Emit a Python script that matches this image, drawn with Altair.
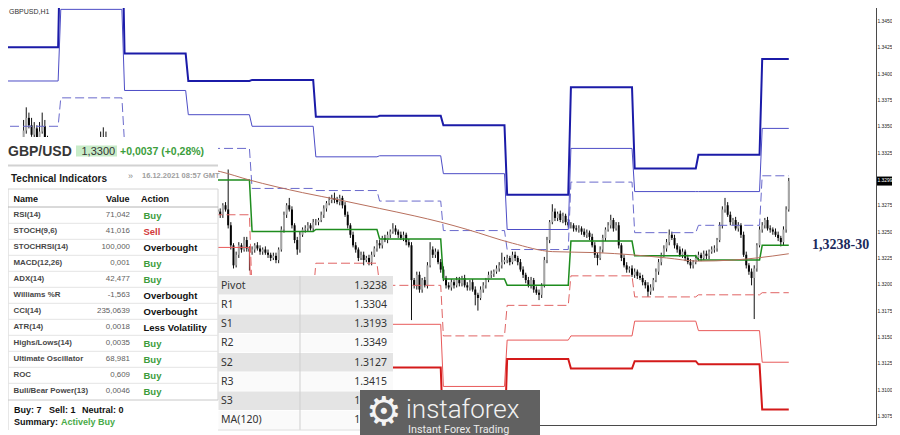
import altair as alt
import pandas as pd

# ---------------- GBPUSD H1 candles (bar 0 = 30 Nov 03:00 ... bar 295 = 16 Dec 10:00) ----------------
first_open = 1.3326
closes = [
    # 30 Nov
    1.3328, 1.3330, 1.3333, 1.3328, 1.3332, 1.3336, 1.3338, 1.3347, 1.3359, 1.3352, 1.3343, 1.3349, 1.3338, 1.3346, 1.3351, 1.3340, 1.3324, 1.3305, 1.3281, 1.3272, 1.3286,
    # 1 Dec
    1.3281, 1.3272, 1.3276, 1.3286, 1.3290, 1.3295, 1.3300, 1.3305, 1.3310, 1.3314, 1.3319, 1.3321, 1.3324, 1.3328, 1.3333, 1.3336, 1.3338, 1.3333, 1.3324, 1.3314, 1.3305, 1.3295, 1.3290, 1.3292,
    # 2 Dec
    1.3295, 1.3300, 1.3302, 1.3298, 1.3290, 1.3286, 1.3281, 1.3272, 1.3276, 1.3267, 1.3262, 1.3257, 1.3264, 1.3272, 1.3276, 1.3281, 1.3283, 1.3276, 1.3272, 1.3273, 1.3281, 1.3286, 1.3290, 1.3286,
    # 3 Dec
    1.3281, 1.3276, 1.3272, 1.3262, 1.3254, 1.3248, 1.3243, 1.3251, 1.3257, 1.3267, 1.3272, 1.3270, 1.3267, 1.3276, 1.3272, 1.3257, 1.3238, 1.3219, 1.3229, 1.3238, 1.3234, 1.3243, 1.3235, 1.3232,
    # 6 Dec
    1.3234, 1.3238, 1.3235, 1.3232, 1.3234, 1.3231, 1.3229, 1.3226, 1.3228, 1.3224, 1.3234, 1.3253, 1.3267, 1.3276, 1.3272, 1.3257, 1.3243, 1.3234, 1.3248, 1.3253, 1.3254, 1.3257, 1.3254, 1.3260,
    # 7 Dec
    1.3260, 1.3262, 1.3267, 1.3273, 1.3278, 1.3281, 1.3283, 1.3281, 1.3279, 1.3283, 1.3276, 1.3267, 1.3257, 1.3248, 1.3238, 1.3234, 1.3226, 1.3229, 1.3224, 1.3226, 1.3222, 1.3229, 1.3235, 1.3240,
    # 8 Dec
    1.3238, 1.3245, 1.3243, 1.3248, 1.3251, 1.3254, 1.3251, 1.3248, 1.3245, 1.3248, 1.3241, 1.3238, 1.3205, 1.3200, 1.3210, 1.3196, 1.3205, 1.3200, 1.3219, 1.3234, 1.3229, 1.3232, 1.3222, 1.3215,
    # 9 Dec
    1.3207, 1.3200, 1.3198, 1.3203, 1.3200, 1.3205, 1.3202, 1.3207, 1.3200, 1.3198, 1.3203, 1.3196, 1.3191, 1.3188, 1.3196, 1.3200, 1.3205, 1.3210, 1.3211, 1.3213, 1.3216, 1.3219, 1.3222, 1.3224,
    # 10 Dec
    1.3226, 1.3222, 1.3229, 1.3226, 1.3222, 1.3215, 1.3210, 1.3205, 1.3200, 1.3205, 1.3196, 1.3193, 1.3191, 1.3200, 1.3224, 1.3243, 1.3260, 1.3270, 1.3264, 1.3268, 1.3262, 1.3266, 1.3260, 1.3257,
    # 13 Dec
    1.3257, 1.3254, 1.3253, 1.3254, 1.3251, 1.3248, 1.3250, 1.3246, 1.3238, 1.3229, 1.3226, 1.3234, 1.3245, 1.3253, 1.3257, 1.3262, 1.3254, 1.3257, 1.3238, 1.3226, 1.3219, 1.3215, 1.3216, 1.3210,
    # 14 Dec
    1.3213, 1.3209, 1.3207, 1.3203, 1.3200, 1.3194, 1.3198, 1.3205, 1.3213, 1.3222, 1.3229, 1.3235, 1.3241, 1.3248, 1.3245, 1.3238, 1.3234, 1.3229, 1.3232, 1.3226, 1.3222, 1.3219, 1.3222, 1.3226,
    # 15 Dec
    1.3229, 1.3226, 1.3230, 1.3228, 1.3232, 1.3234, 1.3235, 1.3243, 1.3257, 1.3272, 1.3276, 1.3267, 1.3260, 1.3262, 1.3254, 1.3257, 1.3248, 1.3229, 1.3219, 1.3213, 1.3207, 1.3216, 1.3238, 1.3253,
    # 16 Dec
    1.3257, 1.3262, 1.3254, 1.3253, 1.3251, 1.3248, 1.3245, 1.3241, 1.3253, 1.3272, 1.3299,
]
wick_up_pips = [
    2, 2, 2, 2, 2, 2, 1, 10, 10, 5, 7, 6, 3, 9, 13, 6, 2, 3, 3, 3, 3,
    3, 2, 3, 3, 2, 3, 3, 2, 3, 3, 2, 3, 2, 3, 2, 10, 12, 8, 3, 2, 3, 3, 2, 3,
    3, 2, 3, 3, 2, 3, 3, 2, 3, 3, 2, 3, 3, 2, 3, 3, 2, 3, 3, 2, 3, 3, 2, 3,
    3, 2, 3, 3, 2, 3, 3, 2, 3, 3, 2, 3, 3, 2, 3, 38, 3, 2, 3, 3, 2, 3, 3, 2,
    3, 2, 3, 3, 2, 3, 3, 2, 3, 3, 2, 3, 3, 2, 7, 3, 2, 3, 3, 2, 3, 3, 2, 3,
    3, 2, 3, 3, 2, 3, 3, 5, 3, 3, 2, 3, 3, 2, 3, 3, 2, 3, 3, 2, 3, 3, 2, 3,
    3, 2, 3, 3, 2, 5, 3, 2, 3, 3, 2, 3, 3, 2, 3, 3, 2, 3, 3, 7, 3, 3, 2, 3,
    3, 2, 3, 3, 2, 3, 3, 2, 3, 3, 2, 3, 3, 2, 3, 3, 2, 3, 3, 2, 3, 3, 9, 3,
    3, 2, 3, 3, 2, 3, 3, 2, 3, 3, 2, 3, 3, 2, 3, 3, 2, 7, 3, 2, 3, 3, 2, 3,
    3, 2, 3, 3, 2, 3, 3, 2, 3, 3, 2, 3, 3, 2, 3, 5, 2, 3, 3, 2, 3, 3, 2, 3,
    3, 2, 3, 3, 2, 3, 3, 2, 3, 3, 2, 3, 3, 5, 3, 3, 2, 3, 3, 2, 3, 3, 2, 3,
    3, 2, 3, 3, 2, 3, 3, 2, 3, 3, 7, 3, 3, 2, 3, 3, 2, 3, 3, 2, 3, 3, 2, 3,
    3, 2, 3, 3, 2, 3, 3, 2, 3, 3, 3,
]
wick_dn_pips = [
    2, 3, 2, 3, 2, 2, 3, 4, 3, 3, 2, 3, 4, 3, 2, 3, 3, 4, 3, 4, 3,
    3, 3, 2, 3, 3, 2, 3, 3, 2, 3, 3, 2, 3, 2, 3, 3, 2, 3, 3, 2, 3, 3, 2, 3,
    3, 3, 2, 3, 3, 2, 3, 3, 2, 3, 3, 2, 3, 3, 2, 3, 3, 2, 3, 3, 2, 3, 3, 2,
    3, 3, 2, 3, 3, 2, 3, 3, 2, 3, 3, 2, 3, 3, 2, 3, 4, 3, 2, 3, 3, 2, 3, 18,
    3, 3, 2, 3, 3, 2, 3, 3, 2, 3, 3, 2, 3, 3, 2, 3, 3, 5, 3, 2, 3, 3, 2, 3,
    3, 3, 2, 3, 3, 2, 3, 3, 2, 3, 3, 2, 3, 3, 2, 3, 3, 2, 5, 2, 3, 3, 2, 3,
    3, 3, 2, 3, 3, 2, 3, 3, 2, 3, 3, 2, 38, 3, 4, 3, 3, 2, 3, 2, 3, 3, 2, 3,
    3, 3, 2, 3, 3, 2, 3, 3, 2, 3, 3, 2, 10, 12, 2, 3, 3, 2, 3, 3, 2, 3, 3, 2,
    3, 3, 2, 3, 3, 2, 3, 3, 2, 3, 3, 2, 5, 3, 2, 3, 3, 2, 3, 3, 2, 3, 3, 2,
    3, 3, 2, 3, 3, 2, 3, 3, 2, 3, 7, 2, 3, 3, 2, 3, 3, 2, 3, 3, 2, 3, 3, 2,
    3, 3, 2, 3, 3, 5, 3, 3, 2, 3, 3, 2, 3, 3, 2, 3, 3, 2, 3, 3, 2, 3, 3, 2,
    3, 3, 2, 3, 3, 2, 3, 3, 2, 3, 3, 2, 3, 3, 2, 3, 3, 2, 3, 3, 7, 39, 3, 2,
    3, 3, 2, 3, 3, 2, 3, 4, 3, 3, 2,
]

# ---------------- daily pivot levels (30 Nov ... 16 Dec) ----------------
day_start_bar = [-3, 21, 45, 69, 93, 117, 141, 165, 189, 213, 237, 261, 285]
day_end_bar = [20, 44, 68, 92, 116, 140, 164, 188, 212, 236, 260, 284, 295]
lvl_R3 = [1.3426, 1.3552, 1.3420, 1.3394, 1.3395, 1.3360, 1.3361, 1.3352, 1.3286, 1.3388, 1.3311, 1.3324, 1.3415]
lvl_R2 = [1.3394, 1.3462, 1.3385, 1.3362, 1.3351, 1.3322, 1.3323, 1.3306, 1.3253, 1.3330, 1.3289, 1.3289, 1.3349]
lvl_R1 = [1.3351, 1.3378, 1.3334, 1.3330, 1.3292, 1.3290, 1.3280, 1.3252, 1.3234, 1.3298, 1.3250, 1.3257, 1.3304]
lvl_P = [1.3319, 1.3289, 1.3300, 1.3300, 1.3251, 1.3253, 1.3244, 1.3206, 1.3200, 1.3242, 1.3228, 1.3224, 1.3238]
lvl_S1 = [1.3276, 1.3204, 1.3249, 1.3267, 1.3191, 1.3221, 1.3200, 1.3152, 1.3181, 1.3209, 1.3189, 1.3191, 1.3193]
lvl_S2 = [1.3244, 1.3115, 1.3215, 1.3236, 1.3150, 1.3185, 1.3163, 1.3104, 1.3148, 1.3152, 1.3166, 1.3157, 1.3127]
lvl_S3 = [1.3201, 1.3030, 1.3163, 1.3207, 1.3090, 1.3154, 1.3122, 1.3052, 1.3130, 1.3121, 1.3128, 1.3125, 1.3082]

# MA(120)
ma_bar = [67, 81, 92, 112, 126, 141, 154, 164, 174, 191, 206, 223, 236, 249, 261, 274, 283, 295]
ma_val = [1.3314, 1.3308, 1.3300, 1.3288, 1.3281, 1.3273, 1.3266, 1.3260, 1.3253, 1.3240, 1.3232, 1.3231,
          1.3229, 1.3226, 1.3223, 1.3224, 1.3226, 1.3230]

# axes (labels of ticks that sit under the panels are not visible in the picture)
xtick_bar = [13, 29, 45, 61, 77, 93, 109, 125, 141, 157, 173, 189, 205, 221, 237, 253, 269, 285]
xtick_label = ["", "", "", "", "", "", "", "", "", "", "", "10 Dec 00:00",
               "10 Dec 16:00", "13 Dec 08:00", "14 Dec 00:00", "14 Dec 16:00", "15 Dec 08:00", "16 Dec 00:00"]
ytick_val = [1.3075, 1.3100, 1.3125, 1.3150, 1.3175, 1.3200, 1.3225, 1.3250, 1.3275, 1.3300,
             1.3325, 1.3350, 1.3375, 1.3400, 1.3425, 1.3450]
last_price = 1.3299
last_price_text = "1.3299"
pivot_note = "1,3238-30"
pivot_note_price = 1.3238

# ---------------- overlay texts ----------------
symbol_title = "GBP/USD"
quote_text = "1,3300"
change_text = "+0,0037 (+0,28%)"
chart_tag = "GBPUSD,H1"
ti_title = "Technical Indicators"
ti_time = "16.12.2021 08:57 GMT"
ti_names = ["RSI(14)", "STOCH(9,6)", "STOCHRSI(14)", "MACD(12,26)", "ADX(14)", "Williams %R", "CCI(14)",
            "ATR(14)", "Highs/Lows(14)", "Ultimate Oscillator", "ROC", "Bull/Bear Power(13)"]
ti_values = ["71,042", "41,016", "100,000", "0,001", "42,477", "-1,563", "235,0639", "0,0018", "0,0035",
             "68,981", "0,609", "0,0046"]
ti_actions = ["Buy", "Sell", "Overbought", "Buy", "Buy", "Overbought", "Overbought", "Less Volatility",
              "Buy", "Buy", "Buy", "Buy"]
pv_names = ["Pivot", "R1", "S1", "R2", "S2", "R3", "S3", "MA(120)"]
pv_values = ["1.3238", "1.3304", "1.3193", "1.3349", "1.3127", "1.3415", "1.3082", "1.3230"]

assert len(closes) == len(wick_up_pips) == len(wick_dn_pips) == 296

# ---------------- build tables ----------------
opens = [first_open] + closes[:-1]
rows = []
for i, (o, c, u, d) in enumerate(zip(opens, closes, wick_up_pips, wick_dn_pips)):
    rows.append(dict(bar=i, open=o, close=c, high=max(o, c) + u / 10000.0, low=min(o, c) - d / 10000.0,
                     dir="up" if c >= o else "down"))
cdf = pd.DataFrame(rows)

xs = alt.Scale(domain=[0, 325.95], nice=False, zero=False)
ys = alt.Scale(domain=[1.30674, 1.34690], nice=False, zero=False)

SANS = "Liberation Sans"
YLAB_SIZE = 4.9

label_expr = " : ".join(f"datum.value == {b} ? '{l}'" for b, l in zip(xtick_bar, xtick_label)) + " : ''"
x_axis = alt.Axis(values=xtick_bar, labelExpr=label_expr, orient="bottom", grid=False, domain=False,
                  tickSize=4, tickColor="#444444", labelFontSize=6, labelColor="#222222",
                  labelFont=SANS, labelAlign="left", labelBaseline="top", labelPadding=0,
                  labelOffset=2, labelFlush=False, labelOverlap=False, title=None, zindex=0)
y_axis = alt.Axis(values=ytick_val, orient="right", grid=False, domain=False, labels=False,
                  tickSize=2, tickColor="#444444", title=None, zindex=0)

wicks = alt.Chart(cdf).mark_rule(color="#111111", strokeWidth=1, clip=True).encode(
    x=alt.X("bar:Q", scale=xs, axis=x_axis),
    y=alt.Y("low:Q", scale=ys, axis=y_axis),
    y2="high:Q",
)
bodies_up = alt.Chart(cdf).transform_filter("datum.dir == 'up'").mark_bar(
    width=2, clip=True, color="#a5a5a5").encode(
    x=alt.X("bar:Q", scale=xs, axis=None), y=alt.Y("open:Q", scale=ys, axis=None), y2="close:Q")
bodies_dn = alt.Chart(cdf).transform_filter("datum.dir == 'down'").mark_bar(
    width=2, clip=True, color="#050505").encode(
    x=alt.X("bar:Q", scale=xs, axis=None), y=alt.Y("open:Q", scale=ys, axis=None), y2="close:Q")


def level_df(vals):
    recs = []
    for s, e, v in zip(day_start_bar, day_end_bar, vals):
        recs.append({"bar": s, "price": v})
        recs.append({"bar": e, "price": v})
    return pd.DataFrame(recs)


level_styles = [
    (lvl_R3, dict(color="#1b1ba8", strokeWidth=2)),
    (lvl_R2, dict(color="#4d4dc6", strokeWidth=1)),
    (lvl_R1, dict(color="#6a6acc", strokeWidth=1, strokeDash=[9, 4])),
    (lvl_S1, dict(color="#e06464", strokeWidth=1, strokeDash=[9, 4])),
    (lvl_S2, dict(color="#e85a5a", strokeWidth=1)),
    (lvl_S3, dict(color="#d41a1a", strokeWidth=2)),
    (lvl_P, dict(color="#1e8c1e", strokeWidth=1.5)),
]
level_layers = [
    alt.Chart(level_df(v)).mark_line(clip=True, **st).encode(
        x=alt.X("bar:Q", scale=xs, axis=None), y=alt.Y("price:Q", scale=ys, axis=None))
    for v, st in level_styles
]
ma_layer = alt.Chart(pd.DataFrame({"bar": ma_bar, "price": ma_val})).mark_line(
    clip=True, color="#b8705e", strokeWidth=1, interpolate="monotone").encode(
    x=alt.X("bar:Q", scale=xs, axis=None), y=alt.Y("price:Q", scale=ys, axis=None))

# right price labels (the page leaves room up to x=892)
ylab_df = pd.DataFrame({"price": ytick_val, "t": [f"{v:.4f}" for v in ytick_val]})
ylabels = alt.Chart(ylab_df).mark_text(
    font=SANS, fontSize=YLAB_SIZE, color="#222222", align="left", baseline="middle").encode(
    x=alt.value(877.5), y=alt.Y("price:Q", scale=ys, axis=None), text="t:N")

# ---------------- overlay helpers (pixel layout, plot top at page y=2) ----------------
OY = 2


def P(y):
    return y - OY


def rects(recs):
    return alt.Chart(pd.DataFrame(recs)).mark_rect().encode(
        x=alt.X("x:Q", scale=None), x2="x2:Q", y=alt.Y("y:Q", scale=None), y2="y2:Q",
        color=alt.Color("c:N", scale=None))


def rules(recs, width=1):
    return alt.Chart(pd.DataFrame(recs)).mark_rule(strokeWidth=width).encode(
        x=alt.X("x:Q", scale=None), x2="x2:Q", y=alt.Y("y:Q", scale=None), y2="y2:Q",
        color=alt.Color("c:N", scale=None))


def texts(recs, **kw):
    return alt.Chart(pd.DataFrame(recs)).mark_text(**kw).encode(
        x=alt.X("x:Q", scale=None), y=alt.Y("y:Q", scale=None), text="t:N",
        color=alt.Color("c:N", scale=None))


panel_bg = rects([
    dict(x=0, x2=218, y=P(137), y2=P(440), c="#ffffff"),
    dict(x=218, x2=393, y=P(275), y2=P(440), c="#ffffff"),
    dict(x=76, x2=117, y=P(145.5), y2=P(156.5), c="#c8ecc8"),
])
pv_rows = rects([
    dict(x=218.5, x2=393, y=P(276 + 19.25 * i), y2=P(276 + 19.25 * (i + 1) - 0.7),
         c="#e4e4e4" if i % 2 == 0 else "#fafafa")
    for i in range(len(pv_names))
])
table_lines = rules(
    [dict(x=8, x2=8, y=P(189), y2=P(430), c="#cfcfcf"),
     dict(x=8, x2=218, y=P(189), y2=P(189), c="#d4d4d4"),
     dict(x=218, x2=218, y=P(189), y2=P(400), c="#d4d4d4"),
     dict(x=8, x2=218, y=P(207), y2=P(207), c="#b4b4b4"),
     dict(x=8, x2=218, y=P(400), y2=P(400), c="#c8c8c8"),
     dict(x=300, x2=300, y=P(276), y2=P(430), c="#cfcfcf"),
     dict(x=218, x2=393, y=P(430), y2=P(430), c="#dddddd")]
    + [dict(x=8, x2=218, y=P(223.3 + 16 * i), y2=P(223.3 + 16 * i), c="#e4e4e4") for i in range(11)]
)
top_shadow = rules([dict(x=5, x2=218, y=P(165.5), y2=P(165.5), c="#d2d2d2")], width=2)

hdr_title = texts([dict(x=8, y=P(155.5), t=symbol_title, c="#363636")],
                  font=SANS, fontSize=14, fontWeight="bold", align="left", baseline="alphabetic")
hdr_quote = texts([dict(x=81.5, y=P(155), t=quote_text, c="#333333")],
                  font=SANS, fontSize=11, align="left", baseline="alphabetic")
hdr_change = texts([dict(x=120, y=P(155), t=change_text, c="#3c9e3c")],
                   font=SANS, fontSize=10.5, fontWeight="bold", align="left", baseline="alphabetic")
tag = texts([dict(x=9, y=P(14), t=chart_tag, c="#333333")],
            font=SANS, fontSize=7, align="left", baseline="alphabetic")

ti_head = texts([dict(x=11, y=P(182), t=ti_title, c="#1a1a1a")],
                font=SANS, fontSize=10, fontWeight="bold", align="left", baseline="alphabetic")
ti_arrow = texts([dict(x=128, y=P(178.5), t="\u00bb", c="#8a8a8a")],
                 font=SANS, fontSize=9, align="left", baseline="alphabetic")
ti_stamp = texts([dict(x=142, y=P(178), t=ti_time, c="#a0a0a0")],
                 font=SANS, fontSize=7.5, fontWeight="bold", align="left", baseline="alphabetic")
col_head_l = texts([dict(x=13.5, y=P(198.5), t="Name", c="#111111"),
                    dict(x=141, y=P(198.5), t="Action", c="#111111")],
                   font=SANS, fontSize=9, fontWeight="bold", align="left", baseline="middle")
col_head_r = texts([dict(x=129.5, y=P(198.5), t="Value", c="#111111")],
                   font=SANS, fontSize=9, fontWeight="bold", align="right", baseline="middle")
ti_name_l = texts([dict(x=13.5, y=P(215.3 + 16 * i), t=n, c="#474747") for i, n in enumerate(ti_names)],
                  font=SANS, fontSize=7.9, fontWeight="bold", align="left", baseline="middle")
ti_val_l = texts([dict(x=130, y=P(215.3 + 16 * i), t=v, c="#5e5e5e") for i, v in enumerate(ti_values)],
                 font=SANS, fontSize=7.9, align="right", baseline="middle")
action_color = {"Buy": "#3c9c3c", "Sell": "#d23a3a"}
ti_act_l = texts([dict(x=143.5, y=P(215.8 + 16 * i), t=a, c=action_color.get(a, "#111111"))
                  for i, a in enumerate(ti_actions)],
                 font=SANS, fontSize=9.5, fontWeight="bold", align="left", baseline="middle")
ti_summary = texts([dict(x=14, y=P(412.5), t="Buy: 7", c="#111111"),
                    dict(x=49, y=P(412.5), t="Sell: 1", c="#111111"),
                    dict(x=82, y=P(412.5), t="Neutral: 0", c="#111111"),
                    dict(x=14, y=P(424.5), t="Summary:", c="#111111"),
                    dict(x=61, y=P(424.5), t="Actively Buy", c="#48aa48")],
                   font=SANS, fontSize=9, fontWeight="bold", align="left", baseline="alphabetic")

pv_name_l = texts([dict(x=221, y=P(276 + 19.25 * (i + 0.5)), t=n, c="#333333") for i, n in enumerate(pv_names)],
                  font="Noto Sans", fontSize=10.5, align="left", baseline="middle")
pv_val_l = texts([dict(x=387, y=P(276 + 19.25 * (i + 0.5)), t=v, c="#333333") for i, v in enumerate(pv_values)],
                 font="Noto Sans", fontSize=10.5, align="right", baseline="middle")

logo_box = rects([dict(x=360, x2=540, y=P(390), y2=P(440), c="#616161")])
logo_gear = texts([dict(x=384, y=P(413), t="\u2699", c="#f4f4f4")],
                  font="DejaVu Sans", fontSize=40, align="center", baseline="middle")
logo_name = texts([dict(x=406, y=P(417.5), t="instaforex", c="#f2f2f2")],
                  font="Roboto", fontSize=26, fontWeight=300, align="left", baseline="alphabetic")
logo_sub = texts([dict(x=408, y=P(432.5), t="Instant Forex Trading", c="#ececec")],
                 font="Roboto", fontSize=10.8, align="left", baseline="alphabetic")

price_df = pd.DataFrame({"price": [last_price], "t": [last_price_text]})
price_box = alt.Chart(price_df).mark_rule(color="#000000", strokeWidth=9, strokeCap="butt").encode(
    x=alt.value(877), x2=alt.value(899), y=alt.Y("price:Q", scale=ys, axis=None))
price_txt = alt.Chart(price_df).mark_text(
    color="#ffffff", font=SANS, fontSize=YLAB_SIZE, align="left", baseline="middle").encode(
    x=alt.value(877.5), y=alt.Y("price:Q", scale=ys, axis=None), text="t:N")

note_df = pd.DataFrame({"price": [pivot_note_price], "t": [pivot_note]})
note_txt = alt.Chart(note_df).mark_text(
    color="#1b2a5c", font="Liberation Serif", fontSize=14, fontWeight="bold",
    align="left", baseline="middle").encode(
    x=alt.value(812), y=alt.Y("price:Q", scale=ys, axis=None), text="t:N")

layers = ([wicks, bodies_up, bodies_dn] + level_layers + [ma_layer, ylabels] +
          [panel_bg, pv_rows, table_lines, top_shadow,
           hdr_title, hdr_quote, hdr_change, tag,
           ti_head, ti_arrow, ti_stamp, col_head_l, col_head_r, ti_name_l, ti_val_l, ti_act_l, ti_summary,
           pv_name_l, pv_val_l,
           logo_box, logo_gear, logo_name, logo_sub,
           price_box, price_txt, note_txt])

# svg width = -8 + 876 + 16 = 884 (fits the page body without horizontal overflow)
chart = alt.layer(*layers).properties(
    width=876, height=423,
    padding={"left": -8, "top": -6, "right": 16, "bottom": 10},
    autosize=alt.AutoSizeParams(type="none"),
    background="#ffffff",
).configure_view(stroke="#4a4a4a", strokeWidth=1, fill="#ffffff")

chart.save("out.html", embed_options={"renderer": "svg", "actions": False})
